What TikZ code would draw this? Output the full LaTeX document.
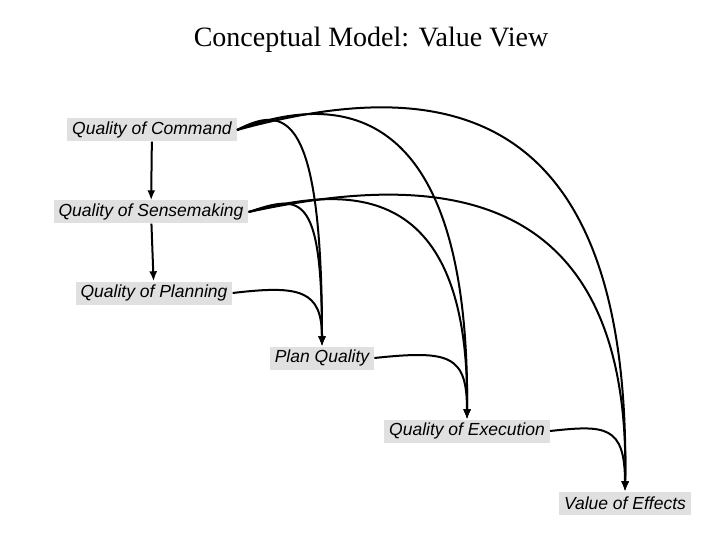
\documentclass[tikz,border=0pt]{standalone}
\usepackage{fontspec}
\setmainfont{Liberation Serif}
\newfontfamily\arialf{Liberation Sans}
\usetikzlibrary{arrows.meta}
\begin{document}
\begin{tikzpicture}[x=1pt,y=-1pt,
  box/.style={fill=black!12,inner xsep=5pt,inner ysep=2pt,minimum height=23pt,font=\arialf\fontsize{17.5}{19}\selectfont\itshape},
  arr/.style={line width=2pt,-{Latex[length=10pt,width=8pt]}}]
\useasboundingbox (0,0) rectangle (720,540);
\node[font=\fontsize{28}{32}\selectfont] (t) at (371,40) {Conceptual Model: Value View};
\node[box] (qc) at (152,130) {Quality of Command};
\node[box] (qs) at (151,212) {Quality of Sensemaking};
\node[box] (qp) at (154,293) {Quality of Planning};
\node[box] (pq) at (322,358) {Plan Quality};
\node[box] (qe) at (467,431) {Quality of Execution};
\node[box] (ve) at (625,503) {Value of Effects};
\draw[arr] (qc) -- (qs);
\draw[arr] (qs) -- (qp);
% from Command
\draw[arr] (qc.east) .. controls (285,105) and (322,110) .. (pq.north);
\draw[arr] (qc.east) .. controls (330,95) and (470,90) .. (qe.north);
\draw[arr] (qc.east) .. controls (420,80) and (632,80) .. (ve.north);
% from Sensemaking
\draw[arr] (qs.east) .. controls (300,195) and (322,190) .. (pq.north);
\draw[arr] (qs.east) .. controls (350,185) and (470,180) .. (qe.north);
\draw[arr] (qs.east) .. controls (420,175) and (632,170) .. (ve.north);
% chain
\draw[arr] (qp.east) .. controls (300,285) and (322,290) .. (pq.north);
\draw[arr] (pq.east) .. controls (450,350) and (467,355) .. (qe.north);
\draw[arr] (qe.east) .. controls (605,425) and (625,425) .. (ve.north);
\end{tikzpicture}
\end{document}
